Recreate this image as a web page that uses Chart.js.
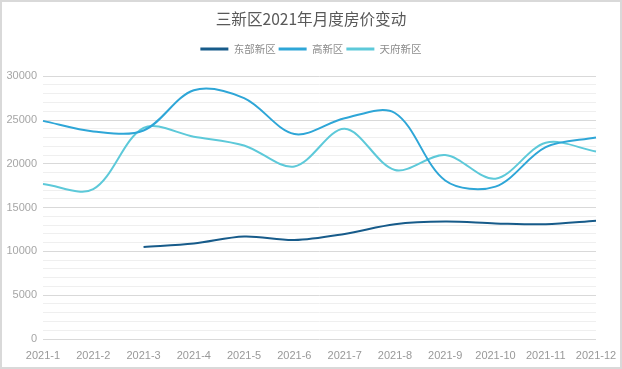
<!DOCTYPE html>
<html>
<head>
<meta charset="utf-8">
<script src="https://cdn.jsdelivr.net/npm/chart.js@4"></script>
<style>
  body { margin: 0; background: #fff; }
  #wrap { width: 622px; height: 369px; }
</style>
</head>
<body>
<div id="wrap"><canvas id="mycanvas" width="622" height="369"></canvas></div>
<script>
var months = ['2021-1', '2021-2', '2021-3', '2021-4', '2021-5', '2021-6',
              '2021-7', '2021-8', '2021-9', '2021-10', '2021-11', '2021-12'];
var dongbu = [null, null, 10500, 10900, 11700, 11300, 12000, 13100, 13400, 13200, 13100, 13500];
var gaoxin = [24900, 23700, 23800, 28400, 27500, 23400, 25200, 25800, 18100, 17400, 21900, 23000];
var tianfu = [17700, 17100, 24100, 23100, 22100, 19700, 24000, 19300, 21000, 18300, 22400, 21400];
var yTicks = [0, 5000, 10000, 15000, 20000, 25000, 30000];

var cjk = '"Noto Sans CJK SC", "Microsoft YaHei", sans-serif';
var latin = '"Liberation Sans", Arial, sans-serif';

// white background and thin frame
var frame = {
  id: 'frame',
  beforeDraw: function(chart) {
    var c = chart.ctx;
    c.save();
    c.fillStyle = '#fff';
    c.fillRect(0, 0, chart.width, chart.height);
    c.strokeStyle = '#d9d9d9';
    c.lineWidth = 2;
    c.strokeRect(1, 1, chart.width - 2, chart.height - 2);
    c.restore();
  }
};

// extra room under the legend, and center title + legend on the whole canvas
var headerFix = {
  id: 'headerFix',
  beforeInit: function(chart) {
    var fit = chart.legend.fit;
    chart.legend.fit = function() {
      fit.bind(chart.legend)();
      this.height += 12;
    };
  },
  afterLayout: function(chart) {
    [chart.legend, chart.titleBlock].forEach(function(b) {
      if (!b) return;
      b.left += 13;
      b.right += 13;
    });
  }
};

var chartdata = {
  labels: months,
  datasets: [
    { label: '东部新区', data: dongbu, borderColor: '#175b8a', backgroundColor: '#175b8a' },
    { label: '高新区', data: gaoxin, borderColor: '#2ea6d7', backgroundColor: '#2ea6d7' },
    { label: '天府新区', data: tianfu, borderColor: '#5dc9d9', backgroundColor: '#5dc9d9' }
  ]
};

var ctx = document.getElementById('mycanvas');

var lineChart = new Chart(ctx, {
  type: 'line',
  data: chartdata,
  plugins: [frame, headerFix],
  options: {
    responsive: false,
    animation: false,
    layout: { padding: { left: 0, right: 26, top: 0, bottom: 4 } },
    elements: {
      line: { borderWidth: 2, tension: 0.33 },
      point: { radius: 0 }
    },
    plugins: {
      title: {
        display: true,
        text: '三新区2021年月度房价变动',
        color: '#595959',
        font: { family: cjk, size: 15.6, weight: 'normal' },
        padding: { top: 10, bottom: 12 }
      },
      legend: {
        position: 'top',
        labels: {
          color: '#8c8c8c',
          font: { family: cjk, size: 10.5 },
          boxWidth: 28,
          boxHeight: 3,
          padding: 3,
          generateLabels: function(chart) {
            var items = Chart.defaults.plugins.legend.labels.generateLabels(chart);
            items.forEach(function(it) { it.lineWidth = 0; });
            return items;
          }
        }
      },
      tooltip: { enabled: false }
    },
    scales: {
      x: {
        offset: false,
        grid: { display: false },
        border: { display: false },
        ticks: {
          color: '#999',
          font: { family: latin, size: 11 },
          maxRotation: 0,
          autoSkip: false,
          padding: 2
        },
        afterFit: function(axis) { axis.height = 26; }
      },
      y: {
        min: 0,
        max: 30000,
        border: { display: false },
        grid: {
          drawTicks: false,
          color: function(c) {
            return c.tick.value % 5000 === 0 ? '#d9d9d9' : '#efefef';
          }
        },
        ticks: {
          stepSize: 1000,
          autoSkip: false,
          color: '#a6a6a6',
          font: { family: latin, size: 11 },
          padding: 6,
          callback: function(v) {
            return yTicks.indexOf(v) >= 0 ? String(v) : '';
          }
        },
        afterFit: function(axis) { axis.width = 43; }
      }
    }
  }
});
</script>
</body>
</html>
